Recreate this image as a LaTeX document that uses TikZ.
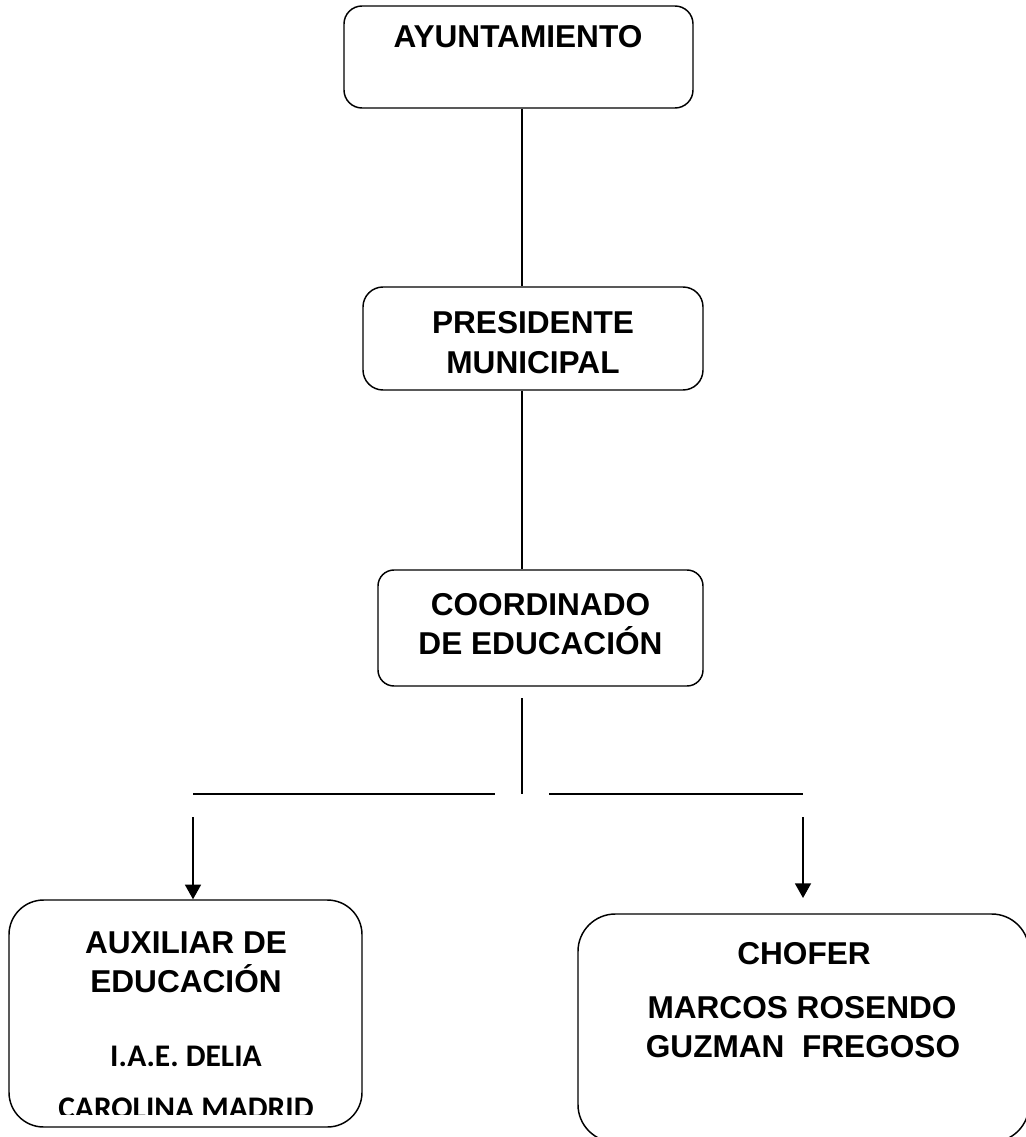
\documentclass[tikz,border=0pt]{standalone}
\usepackage{fontspec}
\setmainfont{Liberation Sans}
\newfontfamily\calibfont{Carlito}
\usetikzlibrary{arrows.meta}
\begin{document}
\begin{tikzpicture}[x=0.75pt,y=-0.75pt,
  orgbox/.style={draw=black,line width=1.1pt,fill=none,inner sep=0pt,rectangle},
  lbl/.style={anchor=base,inner sep=0pt,font=\fontsize{23.7pt}{30pt}\selectfont\bfseries},
  lblc/.style={anchor=base,inner sep=0pt,font=\fontsize{23.6pt}{30pt}\selectfont\calibfont\bfseries},
  conn/.style={draw=black,line width=1.3pt},
  arr/.style={draw=black,line width=1.3pt,-{Triangle[width=12pt,length=11pt]}}]
\useasboundingbox (0,0) rectangle (1025,1137);
\fill[white] (0,0) rectangle (1025,1137);
% boxes
\node[orgbox,rounded corners=13.5pt,minimum width=261.75pt,minimum height=76.5pt] (ayunt) at (518.5,57) {};
\node[orgbox,rounded corners=15pt,minimum width=255pt,minimum height=77.25pt] (pres) at (533,338.5) {};
\node[orgbox,rounded corners=12pt,minimum width=243.75pt,minimum height=87pt] (coord) at (540.5,628) {};
\node[orgbox,rounded corners=26pt,minimum width=264.75pt,minimum height=170.25pt] (aux) at (185.5,1013.5) {};
\node[orgbox,rounded corners=28pt,minimum width=338.25pt,minimum height=171pt] (chof) at (803.5,1028) {};
% texts
\node[lbl] (t1) at (518,48) {AYUNTAMIENTO};
\node[lbl] (t2) at (533,333) {PRESIDENTE};
\node[lbl] (t3) at (533,373) {MUNICIPAL};
\node[lbl] (t4) at (540.5,615) {COORDINADO};
\node[lbl] (t5) at (540.5,654) {DE EDUCACIÓN};
\node[lbl] (t6) at (186,953) {AUXILIAR DE};
\node[lbl] (t7) at (186,992) {EDUCACIÓN};
\node[lblc] (t8) at (186,1066) {I.A.E. DELIA};
\begin{scope}
\clip (0,0) rectangle (1025,1114);
\node[lblc] (t9) at (186,1118) {CAROLINA MADRID};
\end{scope}
\node[lbl] (t10) at (804,964) {CHOFER};
\node[lbl] (t11) at (802,1018) {MARCOS ROSENDO};
\node[lbl] (t12) at (803,1057) {GUZMAN\ \ FREGOSO};
% connectors
\coordinate (spine) at (522,0);
\draw[conn] (ayunt.south -| spine) -- (pres.north -| spine);
\draw[conn] (pres.south -| spine) -- (coord.north -| spine);
\coordinate (stemtop) at (522,698);
\coordinate (stembot) at (522,794);
\draw[conn] (stemtop) -- (stembot);
\coordinate (hl1) at (193,794);
\coordinate (hl2) at (495,794);
\coordinate (hr1) at (549,794);
\coordinate (hr2) at (803,794);
\draw[conn] (hl1) -- (hl2);
\draw[conn] (hr1) -- (hr2);
\coordinate (al) at (193,817);
\coordinate (ar) at (803,817);
\coordinate (artip) at (803,898);
\draw[arr] (al) -- (al |- aux.north);
\draw[arr] (ar) -- (artip);
\end{tikzpicture}
\end{document}
